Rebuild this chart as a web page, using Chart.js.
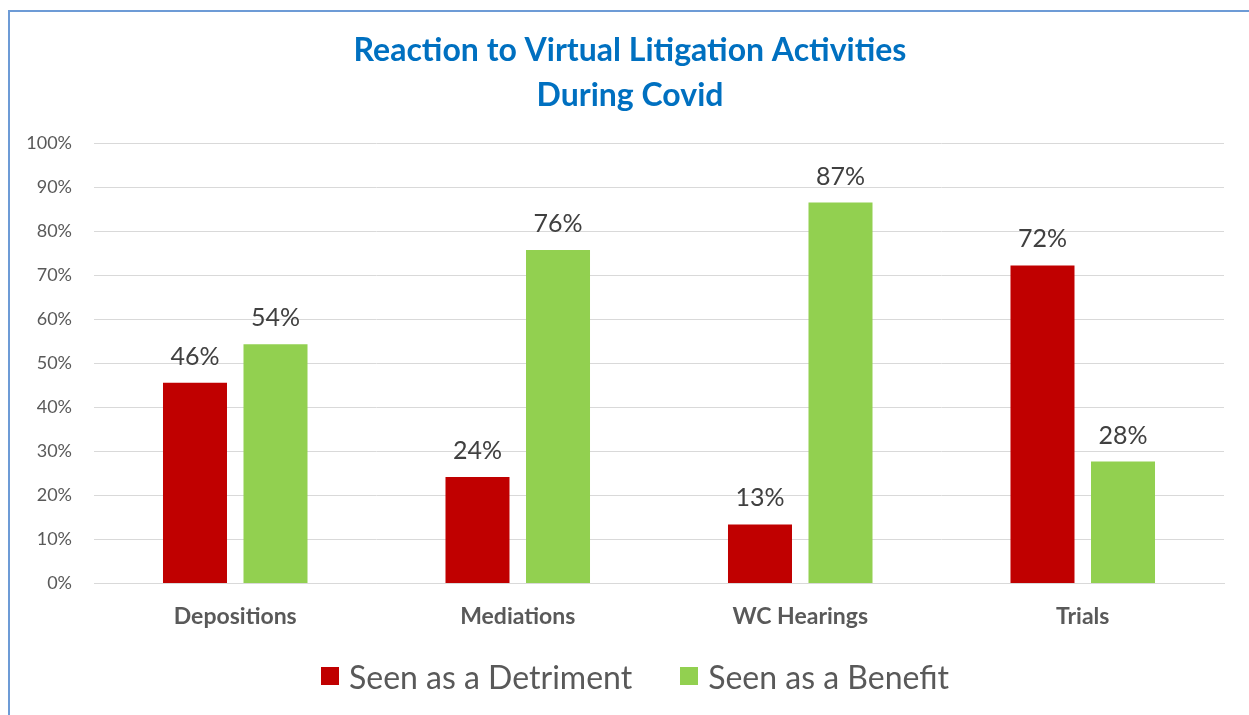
<!DOCTYPE html>
<html>
<head>
<meta charset="utf-8">
<script src="https://cdn.jsdelivr.net/npm/chart.js@4.4.0/dist/chart.umd.min.js"></script>
<style>
  html, body { margin: 0; padding: 0; background: #ffffff; overflow: hidden; }
  #wrap { position: absolute; left: 0; top: 0; width: 1249px; height: 715px; }
  #frame { position: absolute; left: 8px; top: 10px; width: 1260px; height: 720px;
           border-left: 2px solid #6d9bd6; border-top: 2px solid #6d9bd6; box-sizing: border-box; }
  canvas { position: absolute; left: 0; top: 0; }
  #legend { position: absolute; left: 0; width: 1270px; top: 656px; height: 40px;
            display: flex; justify-content: center; align-items: center;
            font-family: Lato, 'Open Sans', sans-serif; font-size: 32px; color: #595959; }
  .item { display: flex; align-items: center; margin: 0 24px; white-space: nowrap; }
  .box { width: 18px; height: 18px; margin-right: 10px; }
</style>
</head>
<body>
<div id="wrap">
  <div id="frame"></div>
  <canvas id="c" width="1249" height="715"></canvas>
  <div id="legend"></div>
</div>
<script>
const categories = ["Depositions", "Mediations", "WC Hearings", "Trials"];
const seriesNames = ["Seen as a Detriment", "Seen as a Benefit"];
const detriment = [45.6, 24.2, 13.4, 72.3];
const benefit = [54.4, 75.8, 86.6, 27.7];
const titleLines = ["Reaction to Virtual Litigation Activities", "During Covid"];

const FONT = "Lato, 'Open Sans', sans-serif";

const valueLabels = {
  id: 'valueLabels',
  afterDatasetsDraw(chart) {
    const ctx = chart.ctx;
    ctx.save();
    ctx.font = "25px " + FONT;
    ctx.fillStyle = "#404040";
    ctx.textAlign = "center";
    ctx.textBaseline = "alphabetic";
    chart.data.datasets.forEach((ds, i) => {
      const meta = chart.getDatasetMeta(i);
      meta.data.forEach((bar, j) => {
        ctx.fillText(Math.round(ds.data[j]) + "%", bar.x, bar.y - 18);
      });
    });
    ctx.restore();
  }
};

const htmlLegend = {
  id: 'htmlLegend',
  afterUpdate(chart) {
    const el = document.getElementById('legend');
    el.innerHTML = '';
    chart.data.datasets.forEach(ds => {
      const item = document.createElement('div');
      item.className = 'item';
      const box = document.createElement('span');
      box.className = 'box';
      box.style.background = ds.backgroundColor;
      const txt = document.createElement('span');
      txt.textContent = ds.label;
      item.appendChild(box);
      item.appendChild(txt);
      el.appendChild(item);
    });
  }
};

const titleShift = {
  id: 'titleShift',
  afterLayout(chart) {
    if (chart.titleBlock) { chart.titleBlock.left += 16; }
  }
};

new Chart(document.getElementById('c'), {
  type: 'bar',
  data: {
    labels: categories,
    datasets: [
      { label: seriesNames[0], data: detriment, backgroundColor: "#C00000", borderWidth: 0 },
      { label: seriesNames[1], data: benefit, backgroundColor: "#92D050", borderWidth: 0 }
    ]
  },
  options: {
    responsive: false,
    animation: false,
    devicePixelRatio: 1,
    layout: { padding: { left: 20, right: 25, top: 10, bottom: 74 } },
    datasets: { bar: { categoryPercentage: 0.57, barPercentage: 0.795 } },
    plugins: {
      title: {
        display: true,
        text: titleLines,
        color: "#0070C0",
        font: { family: FONT, size: 32, weight: 'bold', lineHeight: 1.4 },
        padding: { top: 18, bottom: 26 }
      },
      legend: { display: false },
      tooltip: { enabled: false }
    },
    scales: {
      x: {
        grid: { display: false },
        border: { display: true, color: "#d9d9d9", width: 1 },
        ticks: { color: "#595959", font: { family: FONT, size: 23, weight: 'bold' }, padding: 11 }
      },
      y: {
        min: 0, max: 100,
        grid: { color: "#d9d9d9", drawTicks: false },
        border: { display: false },
        afterFit: scale => { scale.width = 74; },
        ticks: {
          stepSize: 10,
          color: "#595959",
          font: { family: FONT, size: 18 },
          padding: 22,
          callback: v => v + "%"
        }
      }
    }
  },
  plugins: [valueLabels, htmlLegend, titleShift]
});
</script>
</body>
</html>
